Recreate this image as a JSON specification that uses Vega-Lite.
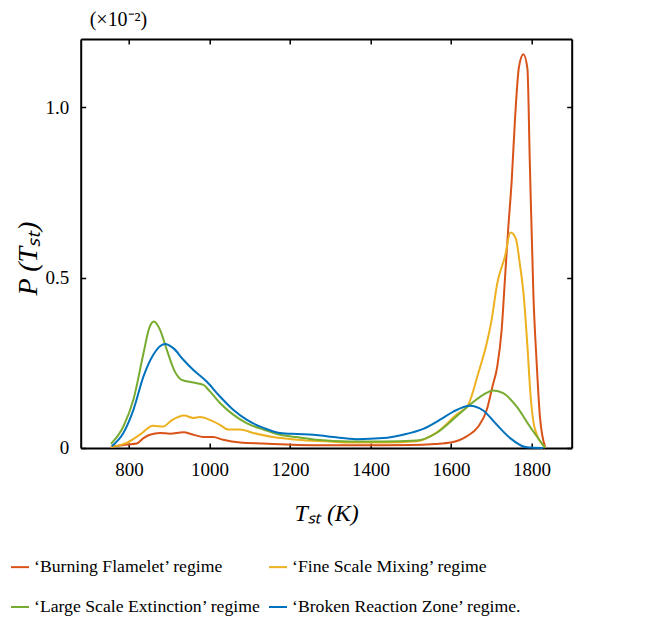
{
  "$schema": "https://vega.github.io/schema/vega-lite/v6.json",
  "width": 491,
  "height": 409,
  "autosize": {"type": "none"},
  "padding": {"left": 80.7, "top": 39, "right": 76.3, "bottom": 169.7},
  "background": "white",
  "config": {
    "view": {"stroke": null},
    "font": "Liberation Serif",
    "axis": {
      "grid": false,
      "domainColor": "black",
      "domainWidth": 2,
      "tickColor": "black",
      "tickWidth": 1.5,
      "tickSize": -5,
      "labelColor": "black",
      "labelFont": "Liberation Serif",
      "labelFontSize": 19,
      "titleFont": "Liberation Serif",
      "titleColor": "black",
      "titleFontWeight": "normal"
    }
  },
  "title": {"text": "(×10⁻²)", "anchor": "start", "frame": "group", "dx": 9, "offset": 8, "font": "Liberation Serif", "fontSize": 20, "fontWeight": "normal", "color": "black"},
  "data": {"values": [
    {"regime": "‘Burning Flamelet’ regime", "T": 755, "P": 0.003},
    {"regime": "‘Burning Flamelet’ regime", "T": 794, "P": 0.010},
    {"regime": "‘Burning Flamelet’ regime", "T": 819, "P": 0.013},
    {"regime": "‘Burning Flamelet’ regime", "T": 836, "P": 0.029},
    {"regime": "‘Burning Flamelet’ regime", "T": 852, "P": 0.039},
    {"regime": "‘Burning Flamelet’ regime", "T": 877, "P": 0.044},
    {"regime": "‘Burning Flamelet’ regime", "T": 902, "P": 0.042},
    {"regime": "‘Burning Flamelet’ regime", "T": 935, "P": 0.046},
    {"regime": "‘Burning Flamelet’ regime", "T": 960, "P": 0.039},
    {"regime": "‘Burning Flamelet’ regime", "T": 985, "P": 0.032},
    {"regime": "‘Burning Flamelet’ regime", "T": 1009, "P": 0.032},
    {"regime": "‘Burning Flamelet’ regime", "T": 1034, "P": 0.024},
    {"regime": "‘Burning Flamelet’ regime", "T": 1076, "P": 0.016},
    {"regime": "‘Burning Flamelet’ regime", "T": 1134, "P": 0.013},
    {"regime": "‘Burning Flamelet’ regime", "T": 1217, "P": 0.009},
    {"regime": "‘Burning Flamelet’ regime", "T": 1299, "P": 0.008},
    {"regime": "‘Burning Flamelet’ regime", "T": 1400, "P": 0.008},
    {"regime": "‘Burning Flamelet’ regime", "T": 1500, "P": 0.009},
    {"regime": "‘Burning Flamelet’ regime", "T": 1560, "P": 0.012},
    {"regime": "‘Burning Flamelet’ regime", "T": 1600, "P": 0.016},
    {"regime": "‘Burning Flamelet’ regime", "T": 1639, "P": 0.034},
    {"regime": "‘Burning Flamelet’ regime", "T": 1668, "P": 0.063},
    {"regime": "‘Burning Flamelet’ regime", "T": 1689, "P": 0.112},
    {"regime": "‘Burning Flamelet’ regime", "T": 1703, "P": 0.18},
    {"regime": "‘Burning Flamelet’ regime", "T": 1715, "P": 0.239},
    {"regime": "‘Burning Flamelet’ regime", "T": 1726, "P": 0.347},
    {"regime": "‘Burning Flamelet’ regime", "T": 1734, "P": 0.493},
    {"regime": "‘Burning Flamelet’ regime", "T": 1742, "P": 0.639},
    {"regime": "‘Burning Flamelet’ regime", "T": 1751, "P": 0.786},
    {"regime": "‘Burning Flamelet’ regime", "T": 1759, "P": 0.962},
    {"regime": "‘Burning Flamelet’ regime", "T": 1769, "P": 1.118},
    {"regime": "‘Burning Flamelet’ regime", "T": 1780, "P": 1.155},
    {"regime": "‘Burning Flamelet’ regime", "T": 1790, "P": 1.113},
    {"regime": "‘Burning Flamelet’ regime", "T": 1796, "P": 0.835},
    {"regime": "‘Burning Flamelet’ regime", "T": 1805, "P": 0.444},
    {"regime": "‘Burning Flamelet’ regime", "T": 1813, "P": 0.249},
    {"regime": "‘Burning Flamelet’ regime", "T": 1821, "P": 0.093},
    {"regime": "‘Burning Flamelet’ regime", "T": 1834, "P": 0.003},
    {"regime": "‘Fine Scale Mixing’ regime", "T": 755, "P": 0.003},
    {"regime": "‘Fine Scale Mixing’ regime", "T": 794, "P": 0.015},
    {"regime": "‘Fine Scale Mixing’ regime", "T": 827, "P": 0.039},
    {"regime": "‘Fine Scale Mixing’ regime", "T": 860, "P": 0.065},
    {"regime": "‘Fine Scale Mixing’ regime", "T": 885, "P": 0.063},
    {"regime": "‘Fine Scale Mixing’ regime", "T": 906, "P": 0.081},
    {"regime": "‘Fine Scale Mixing’ regime", "T": 937, "P": 0.095},
    {"regime": "‘Fine Scale Mixing’ regime", "T": 960, "P": 0.088},
    {"regime": "‘Fine Scale Mixing’ regime", "T": 976, "P": 0.091},
    {"regime": "‘Fine Scale Mixing’ regime", "T": 1009, "P": 0.078},
    {"regime": "‘Fine Scale Mixing’ regime", "T": 1026, "P": 0.068},
    {"regime": "‘Fine Scale Mixing’ regime", "T": 1047, "P": 0.054},
    {"regime": "‘Fine Scale Mixing’ regime", "T": 1076, "P": 0.054},
    {"regime": "‘Fine Scale Mixing’ regime", "T": 1109, "P": 0.044},
    {"regime": "‘Fine Scale Mixing’ regime", "T": 1158, "P": 0.032},
    {"regime": "‘Fine Scale Mixing’ regime", "T": 1217, "P": 0.024},
    {"regime": "‘Fine Scale Mixing’ regime", "T": 1299, "P": 0.019},
    {"regime": "‘Fine Scale Mixing’ regime", "T": 1349, "P": 0.016},
    {"regime": "‘Fine Scale Mixing’ regime", "T": 1431, "P": 0.016},
    {"regime": "‘Fine Scale Mixing’ regime", "T": 1515, "P": 0.02},
    {"regime": "‘Fine Scale Mixing’ regime", "T": 1564, "P": 0.045},
    {"regime": "‘Fine Scale Mixing’ regime", "T": 1614, "P": 0.098},
    {"regime": "‘Fine Scale Mixing’ regime", "T": 1643, "P": 0.127},
    {"regime": "‘Fine Scale Mixing’ regime", "T": 1668, "P": 0.22},
    {"regime": "‘Fine Scale Mixing’ regime", "T": 1689, "P": 0.308},
    {"regime": "‘Fine Scale Mixing’ regime", "T": 1701, "P": 0.376},
    {"regime": "‘Fine Scale Mixing’ regime", "T": 1715, "P": 0.483},
    {"regime": "‘Fine Scale Mixing’ regime", "T": 1734, "P": 0.561},
    {"regime": "‘Fine Scale Mixing’ regime", "T": 1748, "P": 0.632},
    {"regime": "‘Fine Scale Mixing’ regime", "T": 1761, "P": 0.615},
    {"regime": "‘Fine Scale Mixing’ regime", "T": 1771, "P": 0.542},
    {"regime": "‘Fine Scale Mixing’ regime", "T": 1781, "P": 0.444},
    {"regime": "‘Fine Scale Mixing’ regime", "T": 1790, "P": 0.298},
    {"regime": "‘Fine Scale Mixing’ regime", "T": 1798, "P": 0.151},
    {"regime": "‘Fine Scale Mixing’ regime", "T": 1809, "P": 0.054},
    {"regime": "‘Fine Scale Mixing’ regime", "T": 1834, "P": 0.003},
    {"regime": "‘Large Scale Extinction’ regime", "T": 755, "P": 0.012},
    {"regime": "‘Large Scale Extinction’ regime", "T": 786, "P": 0.063},
    {"regime": "‘Large Scale Extinction’ regime", "T": 811, "P": 0.142},
    {"regime": "‘Large Scale Extinction’ regime", "T": 836, "P": 0.278},
    {"regime": "‘Large Scale Extinction’ regime", "T": 850, "P": 0.351},
    {"regime": "‘Large Scale Extinction’ regime", "T": 862, "P": 0.371},
    {"regime": "‘Large Scale Extinction’ regime", "T": 877, "P": 0.347},
    {"regime": "‘Large Scale Extinction’ regime", "T": 894, "P": 0.288},
    {"regime": "‘Large Scale Extinction’ regime", "T": 914, "P": 0.224},
    {"regime": "‘Large Scale Extinction’ regime", "T": 931, "P": 0.2},
    {"regime": "‘Large Scale Extinction’ regime", "T": 960, "P": 0.192},
    {"regime": "‘Large Scale Extinction’ regime", "T": 985, "P": 0.185},
    {"regime": "‘Large Scale Extinction’ regime", "T": 1001, "P": 0.166},
    {"regime": "‘Large Scale Extinction’ regime", "T": 1026, "P": 0.132},
    {"regime": "‘Large Scale Extinction’ regime", "T": 1059, "P": 0.098},
    {"regime": "‘Large Scale Extinction’ regime", "T": 1092, "P": 0.073},
    {"regime": "‘Large Scale Extinction’ regime", "T": 1134, "P": 0.054},
    {"regime": "‘Large Scale Extinction’ regime", "T": 1175, "P": 0.039},
    {"regime": "‘Large Scale Extinction’ regime", "T": 1217, "P": 0.032},
    {"regime": "‘Large Scale Extinction’ regime", "T": 1266, "P": 0.024},
    {"regime": "‘Large Scale Extinction’ regime", "T": 1349, "P": 0.019},
    {"regime": "‘Large Scale Extinction’ regime", "T": 1431, "P": 0.019},
    {"regime": "‘Large Scale Extinction’ regime", "T": 1515, "P": 0.022},
    {"regime": "‘Large Scale Extinction’ regime", "T": 1564, "P": 0.044},
    {"regime": "‘Large Scale Extinction’ regime", "T": 1614, "P": 0.093},
    {"regime": "‘Large Scale Extinction’ regime", "T": 1647, "P": 0.127},
    {"regime": "‘Large Scale Extinction’ regime", "T": 1680, "P": 0.156},
    {"regime": "‘Large Scale Extinction’ regime", "T": 1705, "P": 0.169},
    {"regime": "‘Large Scale Extinction’ regime", "T": 1730, "P": 0.161},
    {"regime": "‘Large Scale Extinction’ regime", "T": 1763, "P": 0.122},
    {"regime": "‘Large Scale Extinction’ regime", "T": 1796, "P": 0.063},
    {"regime": "‘Large Scale Extinction’ regime", "T": 1834, "P": 0.0},
    {"regime": "‘Broken Reaction Zone’ regime.", "T": 757, "P": 0.005},
    {"regime": "‘Broken Reaction Zone’ regime.", "T": 786, "P": 0.044},
    {"regime": "‘Broken Reaction Zone’ regime.", "T": 811, "P": 0.112},
    {"regime": "‘Broken Reaction Zone’ regime.", "T": 836, "P": 0.21},
    {"regime": "‘Broken Reaction Zone’ regime.", "T": 860, "P": 0.273},
    {"regime": "‘Broken Reaction Zone’ regime.", "T": 889, "P": 0.305},
    {"regime": "‘Broken Reaction Zone’ regime.", "T": 910, "P": 0.293},
    {"regime": "‘Broken Reaction Zone’ regime.", "T": 935, "P": 0.259},
    {"regime": "‘Broken Reaction Zone’ regime.", "T": 960, "P": 0.229},
    {"regime": "‘Broken Reaction Zone’ regime.", "T": 993, "P": 0.195},
    {"regime": "‘Broken Reaction Zone’ regime.", "T": 1026, "P": 0.151},
    {"regime": "‘Broken Reaction Zone’ regime.", "T": 1059, "P": 0.112},
    {"regime": "‘Broken Reaction Zone’ regime.", "T": 1092, "P": 0.083},
    {"regime": "‘Broken Reaction Zone’ regime.", "T": 1134, "P": 0.059},
    {"regime": "‘Broken Reaction Zone’ regime.", "T": 1175, "P": 0.044},
    {"regime": "‘Broken Reaction Zone’ regime.", "T": 1217, "P": 0.041},
    {"regime": "‘Broken Reaction Zone’ regime.", "T": 1258, "P": 0.039},
    {"regime": "‘Broken Reaction Zone’ regime.", "T": 1308, "P": 0.032},
    {"regime": "‘Broken Reaction Zone’ regime.", "T": 1366, "P": 0.026},
    {"regime": "‘Broken Reaction Zone’ regime.", "T": 1432, "P": 0.029},
    {"regime": "‘Broken Reaction Zone’ regime.", "T": 1481, "P": 0.039},
    {"regime": "‘Broken Reaction Zone’ regime.", "T": 1531, "P": 0.056},
    {"regime": "‘Broken Reaction Zone’ regime.", "T": 1573, "P": 0.083},
    {"regime": "‘Broken Reaction Zone’ regime.", "T": 1606, "P": 0.107},
    {"regime": "‘Broken Reaction Zone’ regime.", "T": 1647, "P": 0.124},
    {"regime": "‘Broken Reaction Zone’ regime.", "T": 1680, "P": 0.11},
    {"regime": "‘Broken Reaction Zone’ regime.", "T": 1714, "P": 0.068},
    {"regime": "‘Broken Reaction Zone’ regime.", "T": 1747, "P": 0.029},
    {"regime": "‘Broken Reaction Zone’ regime.", "T": 1788, "P": 0.002},
    {"regime": "‘Broken Reaction Zone’ regime.", "T": 1829, "P": 0.0}
  ]},
  "layer": [
    {
      "mark": {"type": "line", "strokeWidth": 2, "interpolate": "monotone"},
      "encoding": {
        "x": {"field": "T", "type": "quantitative",
          "scale": {"domain": [680, 1900], "nice": false, "zero": false},
          "axis": {"orient": "bottom", "values": [800, 1000, 1200, 1400, 1600, 1800], "format": "d", "labelPadding": 18, "title": "Tₛₜ (K)", "titleFontSize": 24, "titleFontStyle": "italic", "titlePadding": 22}},
        "y": {"field": "P", "type": "quantitative",
          "scale": {"domain": [0, 1.2], "nice": false},
          "axis": {"orient": "left", "values": [0, 0.5, 1], "labelExpr": "datum.value == 0 ? '0' : format(datum.value, '.1f')", "labelPadding": 17, "title": "P (Tₛₜ)", "titleFontSize": 28, "titleFontStyle": "italic", "titleAngle": -90, "titleAlign": "center", "titleBaseline": "middle", "titleX": -52.7, "titleY": 219}},
        "color": {"field": "regime", "type": "nominal",
          "scale": {"domain": ["‘Burning Flamelet’ regime", "‘Large Scale Extinction’ regime", "‘Fine Scale Mixing’ regime", "‘Broken Reaction Zone’ regime."],
                    "range": ["#D95319", "#77AC30", "#EDB120", "#0072BD"]},
          "legend": {"orient": "none", "legendX": -70.7, "legendY": 518, "columns": 2, "title": null, "padding": 0,
            "symbolType": "stroke", "symbolSize": 324, "symbolStrokeWidth": 2, "labelFont": "Liberation Serif", "labelFontSize": 17.7, "labelColor": "black",
            "labelOffset": 4, "rowPadding": 21, "columnPadding": 3, "labelLimit": 600}}
      }
    },
    {
      "mark": {"type": "line", "opacity": 0},
      "encoding": {
        "x": {"field": "T", "type": "quantitative",
          "axis": {"orient": "top", "values": [800, 1000, 1200, 1400, 1600, 1800], "labels": false, "title": null}},
        "y": {"field": "P", "type": "quantitative",
          "axis": {"orient": "right", "values": [0, 0.5, 1], "labels": false, "title": null}},
        "detail": {"field": "regime"}
      }
    }
  ],
  "resolve": {"axis": {"x": "independent", "y": "independent"}}
}
